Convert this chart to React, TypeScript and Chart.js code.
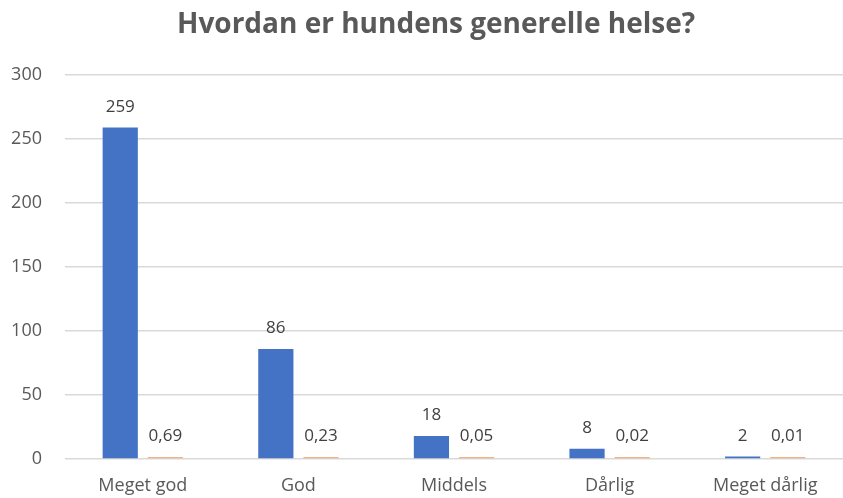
import React, { useEffect, useRef } from "react";
import { Chart, registerables } from "chart.js";

Chart.register(...registerables);

const categories = ["Meget god", "God", "Middels", "Dårlig", "Meget dårlig"];
const counts = [259, 86, 18, 8, 2];
const shares = [0.69, 0.23, 0.05, 0.02, 0.01];
const yTicks = [0, 50, 100, 150, 200, 250, 300];
const titleText = "Hvordan er hundens generelle helse?";

const FONT = "'Open Sans', 'Liberation Sans', sans-serif";

const labelPlugin = {
  id: "barLabels",
  afterDatasetsDraw(chart: any) {
    const ctx = chart.ctx;
    ctx.save();
    ctx.font = `17px ${FONT}`;
    ctx.fillStyle = "#404040";
    ctx.textAlign = "center";
    ctx.textBaseline = "bottom";
    chart.data.datasets.forEach((ds: any, i: number) => {
      const meta = chart.getDatasetMeta(i);
      meta.data.forEach((bar: any, j: number) => {
        const v = ds.data[j];
        const txt = i === 1 ? v.toFixed(2).replace(".", ",") : String(v);
        ctx.fillText(txt, bar.x, bar.y - 12);
      });
    });
    ctx.restore();
  },
};

const titlePlugin = {
  id: "offsetTitle",
  afterDraw(chart: any) {
    const ctx = chart.ctx;
    ctx.save();
    ctx.font = `bold 28px ${FONT}`;
    ctx.fillStyle = "#595959";
    ctx.textAlign = "center";
    ctx.textBaseline = "middle";
    ctx.fillText(titleText, (29 + chart.width) / 2, 25);
    ctx.restore();
  },
};

export default function App() {
  const ref = useRef<HTMLCanvasElement>(null);
  useEffect(() => {
    if (!ref.current) return;
    const chart = new Chart(ref.current, {
      type: "bar",
      data: {
        labels: categories,
        datasets: [
          {
            data: counts,
            backgroundColor: "#4472C4",
            barPercentage: 0.78,
            categoryPercentage: 0.58,
          },
          {
            data: shares,
            backgroundColor: "#F4B183",
            barPercentage: 0.78,
            categoryPercentage: 0.58,
            minBarLength: 2,
          },
        ],
      },
      options: {
        animation: false,
        responsive: false,
        maintainAspectRatio: false,
        layout: { padding: { left: 10, right: 0, top: 75, bottom: 0 } },
        plugins: {
          legend: { display: false },
          tooltip: { enabled: false },
          title: { display: false },
        },
        scales: {
          x: {
            grid: { display: false, drawTicks: false },
            border: { display: false },
            afterFit: (axis: any) => {
              axis.height = 39;
            },
            ticks: {
              color: "#595959",
              font: { family: FONT, size: 18 },
              padding: 16,
              maxRotation: 0,
            },
          },
          y: {
            min: 0,
            max: 300,
            afterBuildTicks: (axis: any) => {
              axis.ticks = yTicks.map((v) => ({ value: v }));
            },
            afterFit: (axis: any) => {
              axis.width = 55;
            },
            grid: { color: "#D9D9D9", lineWidth: 1.5, drawTicks: false },
            border: { display: false },
            ticks: {
              color: "#595959",
              font: { family: FONT, size: 18 },
              padding: 23,
            },
          },
        },
      },
      plugins: [labelPlugin, titlePlugin],
    });
    return () => chart.destroy();
  }, []);
  return (
    <div style={{ position: "fixed", left: 0, top: 0, width: 843, height: 498, background: "#fff" }}>
      <canvas ref={ref} width={843} height={498} />
    </div>
  );
}
